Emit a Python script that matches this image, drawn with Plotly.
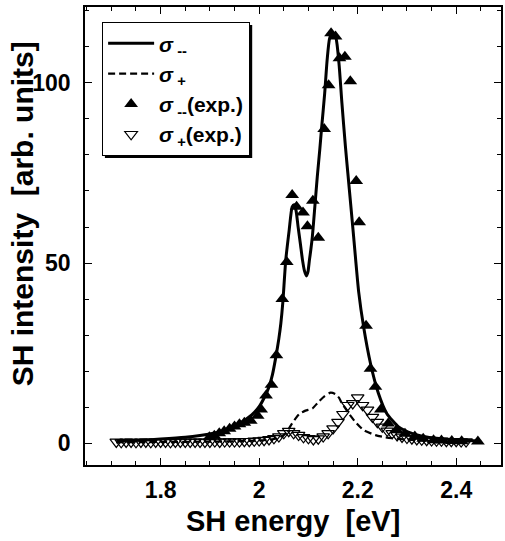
import plotly.graph_objects as go

# ---- data ----
# theory sigma_-- (solid)
th_mm_x = [1.71, 1.76, 1.80, 1.85, 1.88, 1.91, 1.933, 1.95, 1.966, 1.985, 2.000, 2.010, 2.020, 2.027,
           2.034, 2.040, 2.044, 2.048, 2.054, 2.061, 2.067, 2.071, 2.075, 2.079, 2.084, 2.088, 2.092,
           2.096, 2.099, 2.102, 2.105, 2.108, 2.113, 2.118, 2.123, 2.127, 2.133, 2.138, 2.143, 2.149,
           2.156, 2.162, 2.168, 2.175, 2.180, 2.186, 2.192, 2.202, 2.212, 2.226, 2.242, 2.259, 2.283,
           2.310, 2.340, 2.370, 2.400, 2.444]
th_mm_y = [0.5, 0.8, 1.1, 1.6, 2.1, 2.8, 3.6, 4.5, 5.9, 7.8, 10.1, 12.5, 15.6, 19.0,
           24.0, 29.0, 33.2, 39.0, 50.8, 59.2, 65.6, 66.2, 64.5, 60.1, 55.0, 50.8, 47.8,
           46.4, 47.5, 50.8, 53.8, 57.3, 65.6, 74.0, 81.4, 87.9, 97.1, 106.4, 112.4, 114.0,
           112.4, 105.5, 94.4, 82.5, 75.0, 66.0, 57.0, 42.0, 32.3, 22.1, 13.8, 8.2, 4.5,
           2.7, 1.7, 1.2, 0.9, 0.6]

# theory sigma_+ (dashed)
th_p_x = [1.71, 1.80, 1.90, 1.98, 2.02, 2.040, 2.054, 2.067, 2.081, 2.094, 2.108, 2.121, 2.133,
          2.145, 2.155, 2.162, 2.168, 2.175, 2.182, 2.195, 2.212, 2.236, 2.256, 2.28, 2.32, 2.38, 2.444]
th_p_y = [0.2, 0.3, 0.4, 0.6, 0.9, 1.4, 2.7, 5.5, 8.0, 9.0, 9.6, 11.5, 13.0,
          14.0, 13.6, 12.6, 11.0, 9.6, 8.2, 5.9, 3.6, 2.2, 1.6, 1.2, 0.8, 0.5, 0.4]

# experiment sigma_-- (filled up-triangles)
ex_mm_x = [1.899, 1.909, 1.919, 1.929, 1.940, 1.950, 1.960, 1.970, 1.983, 1.997, 2.004, 2.014,
           2.025, 2.035, 2.047, 2.056, 2.067, 2.076, 2.089, 2.098, 2.109, 2.120, 2.132, 2.141,
           2.146, 2.155, 2.163, 2.174, 2.185, 2.197, 2.203, 2.217, 2.226, 2.236, 2.247, 2.262,
           2.279, 2.296, 2.316, 2.333, 2.354, 2.370, 2.391, 2.411, 2.444]
ex_mm_y = [1.6, 2.0, 2.7, 3.3, 4.0, 4.6, 5.2, 5.6, 6.2, 7.6, 9.3, 13.2,
           16.2, 24.4, 40.0, 50.3, 68.9, 65.6, 64.0, 60.2, 67.3, 57.0, 87.2, 99.4,
           113.8, 112.9, 106.9, 107.3, 100.5, 72.8, 61.3, 32.6, 20.6, 15.6, 9.3, 5.4,
           3.6, 2.6, 1.8, 1.2, 0.8, 0.7, 0.6, 0.5, 0.4]

# experiment sigma_+ (open down-triangles)
ex_p_x = [1.71, 1.72, 1.73, 1.74, 1.75, 1.76, 1.77, 1.78, 1.79, 1.80, 1.81, 1.82, 1.83, 1.84,
          1.85, 1.86, 1.87, 1.88, 1.89, 1.90, 1.91, 1.92, 1.93, 1.94, 1.95, 1.96, 1.97, 1.98,
          1.99, 2.00, 2.01, 2.02, 2.03, 2.04, 2.05, 2.06, 2.07, 2.08, 2.09, 2.10, 2.11, 2.12,
          2.13, 2.14, 2.15, 2.16, 2.17, 2.18, 2.19, 2.20, 2.21, 2.22, 2.23, 2.24, 2.25, 2.26,
          2.27, 2.28, 2.29, 2.30, 2.31, 2.32, 2.33, 2.34, 2.35, 2.36, 2.37, 2.38, 2.39, 2.40,
          2.41, 2.42]
ex_p_y = [0.3, 0.2, 0.3, 0.3, 0.2, 0.3, 0.3, 0.2, 0.3, 0.3, 0.3, 0.2, 0.3, 0.3,
          0.3, 0.3, 0.3, 0.3, 0.3, 0.3, 0.4, 0.3, 0.4, 0.4, 0.4, 0.4, 0.5, 0.5,
          0.6, 0.7, 0.8, 1.0, 1.3, 1.8, 2.7, 3.3, 2.7, 2.2, 1.6, 1.3, 1.0, 1.2,
          1.8, 2.7, 4.0, 5.8, 8.0, 10.5, 11.0, 12.6, 10.5, 9.2, 7.2, 5.8, 4.5, 3.4,
          2.7, 2.1, 1.7, 1.4, 1.2, 1.0, 0.9, 0.8, 0.7, 0.6, 0.6, 0.5, 0.5, 0.5,
          0.4, 0.4]

x_ticks = [1.8, 2.0, 2.2, 2.4]
x_tick_labels = ["1.8", "2", "2.2", "2.4"]
y_ticks = [0, 50, 100]
y_tick_labels = ["0", "50", "100"]

FONT = "Liberation Sans, Arial, sans-serif"

fig = go.Figure()
fig.add_trace(go.Scatter(x=th_mm_x, y=th_mm_y, mode="lines", line=dict(color="black", width=3, shape="spline", smoothing=0.6),
                         name="<i>σ</i><sub> --</sub>"))
fig.add_trace(go.Scatter(x=th_p_x, y=th_p_y, mode="lines", line=dict(color="black", width=2.2, dash="7px,4px", shape="spline", smoothing=0.6),
                         name="<i>σ</i><sub> +</sub>"))
fig.add_trace(go.Scatter(x=ex_mm_x, y=ex_mm_y, mode="markers",
                         marker=dict(symbol="triangle-up", size=12, color="black"),
                         name="<i>σ</i><sub> --</sub>(exp.)"))
fig.add_trace(go.Scatter(x=ex_p_x, y=ex_p_y, mode="markers",
                         marker=dict(symbol="triangle-down-open", size=11, color="black", line=dict(width=1.2)),
                         name="<i>σ</i><sub> +</sub>(exp.)"))

axis_common = dict(showline=True, linecolor="black", linewidth=1.5, mirror="ticks",
                   ticks="inside", ticklen=7, tickwidth=1.2, tickcolor="black",
                   showgrid=False, zeroline=False,
                   tickfont=dict(family=FONT, size=23, color="black", weight="bold"))

fig.update_xaxes(range=[1.6465, 2.4909], tickvals=x_ticks, ticktext=x_tick_labels,
                 minor=dict(dtick=0.05, tick0=1.8, ticks="inside", ticklen=4, tickcolor="black"),
                 ticklabelstandoff=4, **axis_common)
fig.update_yaxes(range=[-6.1, 121.1], tickvals=y_ticks, ticktext=y_tick_labels,
                 minor=dict(dtick=10, tick0=0, ticks="inside", ticklen=4, tickcolor="black"),
                 ticklabelstandoff=8, **axis_common)

def px_x(p):
    return (p - 85) / 418
def px_y(p):
    return (465 - p) / 458

fig.update_layout(
    width=505, height=541,
    margin=dict(l=85, r=2, t=7, b=76),
    paper_bgcolor="white", plot_bgcolor="white",
    font=dict(family=FONT, color="black"),
    showlegend=True,
    legend=dict(x=px_x(102), y=px_y(22), xanchor="left", yanchor="top",
                bgcolor="white", bordercolor="black", borderwidth=1.2,
                font=dict(family=FONT, size=21, color="black", weight="bold"),
                itemwidth=46, tracegroupgap=0),
    shapes=[
        # drop shadow behind the legend box
        dict(type="rect", xref="paper", yref="paper", layer="above",
             x0=px_x(105), x1=px_x(253), y0=px_y(158), y1=px_y(25),
             fillcolor="black", line=dict(width=0)),
    ],
    annotations=[
        dict(text="SH energy \u00a0[eV]", xref="paper", yref="paper", x=0.5, y=-0.122,
             xanchor="center", yanchor="middle", showarrow=False,
             font=dict(family=FONT, size=29, color="black", weight="bold")),
        dict(text="SH intensity \u00a0[arb. units]", xref="paper", yref="paper",
             x=px_x(22), y=px_y(214), textangle=-90,
             xanchor="center", yanchor="middle", showarrow=False,
             font=dict(family=FONT, size=30, color="black", weight="bold")),
    ],
)

fig.write_html("out.html")
